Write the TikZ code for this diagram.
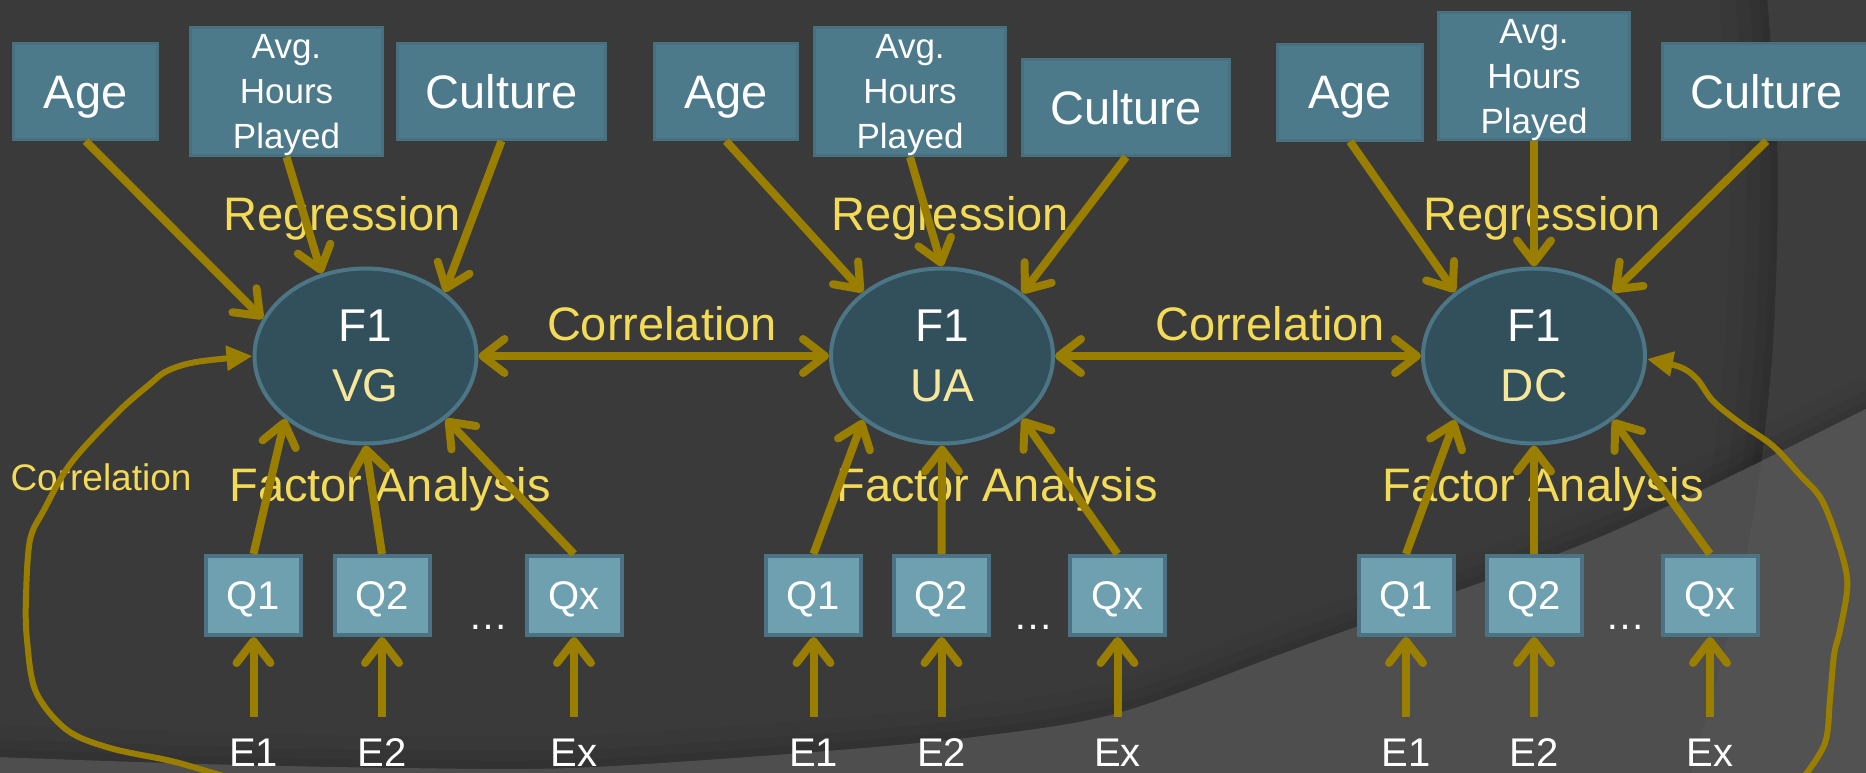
\documentclass[tikz,border=0pt]{standalone}
\usepackage{fontspec}
\setmainfont{Liberation Sans}
\usetikzlibrary{arrows.meta,shapes.geometric}

\definecolor{bgdark}{HTML}{3A3A3A}
\definecolor{bgarc}{HTML}{3D3D3D}
\definecolor{bglight}{HTML}{4E4E4E}
\definecolor{bglighter}{HTML}{525252}
\definecolor{boxfill}{HTML}{4D7A8A}
\definecolor{boxline}{HTML}{48707F}
\definecolor{qfill}{HTML}{6EA0AF}
\definecolor{qline}{HTML}{4B7383}
\definecolor{ellfill}{HTML}{32505B}
\definecolor{ellline}{HTML}{4C7686}
\definecolor{linkolive}{HTML}{997E00}
\definecolor{labyellow}{HTML}{F3DB58}
\definecolor{ellyellow}{HTML}{F8E79A}

\begin{document}
\begin{tikzpicture}[x=1pt, y=-1pt,
  topbox/.style={draw=boxline, fill=boxfill, line width=3pt, inner sep=0pt,
    text=white, font=\fontsize{47}{56}\selectfont, text height=33.7pt, text depth=0pt},
  boxtext/.style={inner sep=0pt, text=white, align=center,
    font=\fontsize{35}{45}\selectfont},
  qbox/.style={draw=qline, fill=qfill, line width=4pt, inner sep=0pt,
    minimum width=95pt, minimum height=79pt, text=white,
    font=\fontsize{40}{48}\selectfont, text height=28.6pt, text depth=0pt},
  factor/.style={ellipse, draw=ellline, fill=ellfill, line width=4pt, inner sep=0pt,
    minimum width=222pt, minimum height=175pt, align=center, text=white,
    font=\fontsize{46}{60}\selectfont},
  lab/.style={inner sep=0pt, anchor=base, text=labyellow, font=\fontsize{47}{56}\selectfont},
  smalllab/.style={inner sep=0pt, anchor=base, text=labyellow, font=\fontsize{37}{44}\selectfont},
  errlab/.style={inner sep=0pt, anchor=base, text=white, font=\fontsize{40}{48}\selectfont},
  dotlab/.style={inner sep=0pt, anchor=base, text=white, font=\fontsize{40}{48}\selectfont},
  link/.style={draw=linkolive, line width=8pt,
    -{Straight Barb[length=22pt,width=34pt,round]}},
  corrlink/.style={draw=linkolive, line width=8pt,
    {Straight Barb[length=22pt,width=34pt,round]}-{Straight Barb[length=22pt,width=34pt,round]}},
  loopcorr/.style={draw=linkolive, line width=6pt, line cap=round, line join=round,
    -{Triangle[length=26pt,width=24pt]}},
]
\useasboundingbox (0,0) rectangle (1866,772);

% ---------- background ----------
\fill[bgdark] (0,0) rectangle (1866,772);
% soft shade on the inner side of the large arc
\foreach \s/\o in {24/0.03, 16/0.04, 9/0.05, 4/0.06}
  \draw[black, opacity=\o, line width=2*\s pt, xshift=-\s pt]
    plot[smooth] coordinates {(1767,-5) (1778,163) (1773,345) (1757,493) (1733,616) (1690,777)};
\fill[bgarc] plot[smooth] coordinates {(1767,-5) (1778,163) (1773,345) (1757,493) (1733,616) (1690,777)}
  -- (1870,777) -- (1870,-5) -- cycle;
% soft shade above the light sweep
\foreach \s/\o in {16/0.03, 9/0.04, 4/0.05}
  \draw[black, opacity=\o, line width=2*\s pt, yshift=\s pt]
    plot[smooth] coordinates {(-5,757) (200,764) (400,768) (572,768) (802,753) (974,737) (1118,713) (1300,647) (1600,537) (1870,407)};
\fill[bglight] plot[smooth] coordinates {(-5,757) (200,764) (400,768) (572,768) (802,753) (974,737) (1118,713) (1300,647) (1600,537) (1870,407)}
  -- (1870,777) -- (-5,777) -- cycle;
\begin{scope}
  \clip plot[smooth] coordinates {(1767,-5) (1778,163) (1773,345) (1757,493) (1733,616) (1690,777)}
    -- (1870,777) -- (1870,-5) -- cycle;
  \fill[bglighter] plot[smooth] coordinates {(-5,757) (200,764) (400,768) (572,768) (802,753) (974,737) (1118,713) (1300,647) (1600,537) (1870,407)}
    -- (1870,777) -- (-5,777) -- cycle;
\end{scope}

% ---------- group VG ----------
\node[topbox, minimum width=144pt, minimum height=96pt] (age1) at (85.5,91.5) {Age};
\node[topbox, minimum width=192pt, minimum height=128pt] (avg1) at (286.5,91.5) {};
\node[boxtext] (avg1t) at ([yshift=-4pt]avg1.center) {Avg.\\Hours\\Played};
\node[topbox, minimum width=208pt, minimum height=96pt] (cul1) at (501.5,91.5) {Culture};
\node[factor] (vg) at (365.5,356) {F1\\\textcolor{ellyellow}{VG}};
\node[qbox] (q11) at (253.5,595.5) {Q1};
\node[qbox] (q12) at (382,595.5) {Q2};
\node[qbox] (q1x) at (574,595.5) {Qx};
\node[dotlab] (dots1) at (488,629) {…};
\node[errlab] (e11) at (253.5,766) {E1};
\node[errlab] (e12) at (382,766) {E2};
\node[errlab] (e1x) at (574,766) {Ex};
\node[lab] (reg1) at (342,230) {Regression};
\node[lab] (fa1) at (390,501) {Factor Analysis};
\node[smalllab] (corl) at (101,490) {Correlation};

% ---------- group UA ----------
\node[topbox, minimum width=143pt, minimum height=96pt] (age2) at (726,91.5) {Age};
\node[topbox, minimum width=191pt, minimum height=128pt] (avg2) at (910,91.5) {};
\node[boxtext] (avg2t) at ([yshift=-4pt]avg2.center) {Avg.\\Hours\\Played};
\node[topbox, minimum width=207pt, minimum height=96pt] (cul2) at (1126,107.5) {Culture};
\node[factor] (ua) at (942,356) {F1\\\textcolor{ellyellow}{UA}};
\node[qbox] (q21) at (813.5,595.5) {Q1};
\node[qbox] (q22) at (941.5,595.5) {Q2};
\node[qbox] (q2x) at (1117.5,595.5) {Qx};
\node[dotlab] (dots2) at (1033,629) {…};
\node[errlab] (e21) at (813.5,766) {E1};
\node[errlab] (e22) at (941.5,766) {E2};
\node[errlab] (e2x) at (1117.5,766) {Ex};
\node[lab] (reg2) at (950,230) {Regression};
\node[lab] (fa2) at (997,501) {Factor Analysis};

% ---------- group DC ----------
\node[topbox, minimum width=145pt, minimum height=96pt] (age3) at (1350,92) {Age};
\node[topbox, minimum width=191pt, minimum height=127pt] (avg3) at (1534,76) {};
\node[boxtext] (avg3t) at ([yshift=-4pt]avg3.center) {Avg.\\Hours\\Played};
\node[topbox, minimum width=208pt, minimum height=96pt] (cul3) at (1766.5,91.5) {Culture};
\node[factor] (dc) at (1534,356) {F1\\\textcolor{ellyellow}{DC}};
\node[qbox] (q31) at (1406,595.5) {Q1};
\node[qbox] (q32) at (1534,595.5) {Q2};
\node[qbox] (q3x) at (1710,595.5) {Qx};
\node[dotlab] (dots3) at (1625,629) {…};
\node[errlab] (e31) at (1406,766) {E1};
\node[errlab] (e32) at (1534,766) {E2};
\node[errlab] (e3x) at (1710,766) {Ex};
\node[lab] (reg3) at (1542,230) {Regression};
\node[lab] (fa3) at (1543,501) {Factor Analysis};

% ---------- correlation between factors ----------
\node[lab] (cor12) at (662,340) {Correlation};
\node[lab] (cor23) at (1270,340) {Correlation};
\draw[corrlink] (vg.east) -- (ua.west);
\draw[corrlink] (ua.east) -- (dc.west);

% ---------- regression paths ----------
\draw[link] (age1.south) -- (vg.160);
\draw[link] (avg1.south) -- (vg.118);
\draw[link] (cul1.south) -- (vg.39);
\draw[link] (age2.south) -- (ua.141);
\draw[link] (avg2.south) -- (ua.90);
\draw[link] (cul2.south) -- (ua.38);
\draw[link] (age3.south) -- (dc.141);
\draw[link] (avg3.south) -- (dc.90);
\draw[link] (cul3.south) -- (dc.39);

% ---------- loadings ----------
\draw[link] (q11.north) -- (vg.218);
\draw[link] (q12.north) -- (vg.270);
\draw[link] (q1x.north) -- (vg.322);
\draw[link] (q21.north) -- (ua.219);
\draw[link] (q22.north) -- (ua.270);
\draw[link] (q2x.north) -- (ua.322);
\draw[link] (q31.north) -- (dc.219);
\draw[link] (q32.north) -- (dc.270);
\draw[link] (q3x.north) -- (dc.321);

% ---------- error terms ----------
\foreach \e/\q in {e11/q11, e12/q12, e1x/q1x, e21/q21, e22/q22, e2x/q2x, e31/q31, e32/q32, e3x/q3x}
  \draw[link, shorten <=21pt] (\e.north) -- (\q.south);

% ---------- hand-drawn correlation loops ----------
\coordinate (loopl) at (230,778);
\coordinate (loopr) at (1803,778);
\draw[loopcorr] plot[smooth, tension=0.55] coordinates {(loopl) (193,767) (167,760) (110,748) (67,730) (36,692)
  (27,640) (26,597) (30,540) (44,510) (71,463) (118,412) (150,384) (167,371) (196,362) (vg.west)};
\draw[loopcorr] plot[smooth, tension=0.55] coordinates {(loopr) (1825,743) (1830,699) (1834,655) (1840,630)
  (1847,591) (1845,566) (1833,527) (1820,497) (1800,475) (1773,446) (1740,423) (1713,401) (1697,379) (1680,367) ([yshift=-3pt]dc.east)};
\end{tikzpicture}
\end{document}
